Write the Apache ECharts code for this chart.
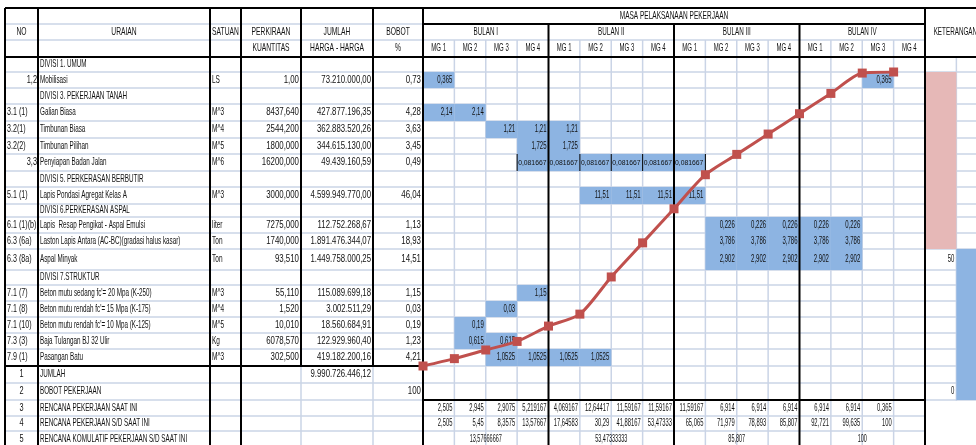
<!DOCTYPE html>
<html><head><meta charset="utf-8">
<script src="https://cdn.jsdelivr.net/npm/echarts@6/dist/echarts.min.js"></script>
<style>html,body{margin:0;padding:0;background:#fff}#c{width:976px;height:445px}</style>
</head><body><div id="c"></div>
<script>
// ---------------- DATA ----------------
const monthNames = ['BULAN I', 'BULAN II', 'BULAN III', 'BULAN IV'];
const weekNames = ['MG 1', 'MG 2', 'MG 3', 'MG 4'];
const headerTop = ['NO', 'URAIAN', 'SATUAN', 'PERKIRAAN', 'JUMLAH', 'BOBOT'];
const headerSub = ['', '', '', 'KUANTITAS', 'HARGA - HARGA', '%'];
const titleSchedule = 'MASA PELAKSANAAN PEKERJAAN';
const titleNote = 'KETERANGAN';

const itemNo = ['', '1,2', '', '3.1 (1)', '3.2(1)', '3.2(2)', '3,3', '', '5.1 (1)', '', '6.1 (1)(b)', '6.3 (6a)', '6.3 (8a)', '', '7.1 (7)', '7.1 (8)', '7.1 (10)', '7.3 (3)', '7.9 (1)'];
const itemName = ['DIVISI 1. UMUM', 'Mobilisasi', 'DIVISI 3. PEKERJAAN TANAH', 'Galian Biasa', 'Timbunan Biasa', 'Timbunan Pilihan', 'Penyiapan Badan Jalan', 'DIVISI 5. PERKERASAN BERBUTIR', 'Lapis Pondasi Agregat Kelas A', 'DIVISI 6.PERKERASAN ASPAL', 'Lapis  Resap Pengikat - Aspal Emulsi', 'Laston Lapis Antara (AC-BC)(gradasi halus kasar)', 'Aspal Minyak', 'DIVISI 7.STRUKTUR', "Beton mutu sedang fc'= 20 Mpa (K-250)", "Beton mutu rendah fc'= 15 Mpa (K-175)", "Beton mutu rendah fc'= 10 Mpa (K-125)", 'Baja Tulangan BJ 32 Ulir', 'Pasangan Batu'];
const itemUnit = ['', 'LS', '', 'M^3', 'M^4', 'M^5', 'M^6', '', 'M^3', '', 'liter', 'Ton', 'Ton', '', 'M^3', 'M^4', 'M^5', 'Kg', 'M^3'];
const itemQty = ['', '1,00', '', '8437,640', '2544,200', '1800,000', '16200,000', '', '3000,000', '', '7275,000', '1740,000', '93,510', '', '55,110', '1,520', '10,010', '6078,570', '302,500'];
const itemPrice = ['', '73.210.000,00', '', '427.877.196,35', '362.883.520,26', '344.615.130,00', '49.439.160,59', '', '4.599.949.770,00', '', '112.752.268,67', '1.891.476.344,07', '1.449.758.000,25', '', '115.089.699,18', '3.002.511,29', '18.560.684,91', '122.929.960,40', '419.182.200,16'];
const itemWeight = ['', '0,73', '', '4,28', '3,63', '3,45', '0,49', '', '46,04', '', '1,13', '18,93', '14,51', '', '1,15', '0,03', '0,19', '1,23', '4,21'];

// schedule bars: item row, first week, last week (0-based), weekly weight
const scheduleRow   = [1, 1, 3, 4, 5, 6, 8, 10, 11, 12, 14, 15, 16, 17, 18];
const scheduleStart = [0, 14, 0, 2, 3, 3, 5, 9, 9, 9, 3, 2, 1, 1, 2];
const scheduleEnd   = [0, 14, 1, 4, 4, 8, 8, 13, 13, 13, 3, 2, 1, 2, 5];
const scheduleValue = [0.365, 0.365, 2.14, 1.21, 1.725, 0.081667, 11.51, 0.226, 3.786, 2.902, 1.15, 0.03, 0.19, 0.615, 1.0525];

const summaryNo = ['1', '2', '3', '4', '5'];
const summaryName = ['JUMLAH', 'BOBOT PEKERJAAN', 'RENCANA PEKERJAAN SAAT INI', 'RENCANA PEKERJAAN S/D SAAT INI', 'RENCANA KOMULATIF PEKERJAAN S/D SAAT INI'];
const totalPrice = '9.990.726.446,12';
const totalWeight = 100;
const weeklyPlan = [2.505, 2.945, 2.9075, 5.219167, 4.069167, 12.64417, 11.59167, 11.59167, 11.59167, 6.914, 6.914, 6.914, 6.914, 6.914, 0.365];
const cumulativePlan = [2.505, 5.45, 8.3575, 13.57667, 17.64583, 30.29, 41.88167, 53.47333, 65.065, 71.979, 78.893, 85.807, 92.721, 99.635, 100];
const monthlyCumulative = [13.57666667, 53.47333333, 85.807, 100];
const curveStart = 0;

// KETERANGAN column: filled ranges (rows) and cell notes
const notePinkRows = [1, 11];
const noteBlueRows = [12, 20];
const noteRow = [12, 20];
const noteValue = [50, 0];

// ---------------- LAYOUT ----------------
const FONT = "'Liberation Sans', Arial, sans-serif";
const CW = 976;
const colX = [5, 38, 210, 241, 301, 373, 423];
const WEEKS_L = 423, WEEKS_R = 925;
const WEEK_W = (WEEKS_R - WEEKS_L) / 16;
const X_MAX = (CW - WEEKS_L) / WEEK_W;
const headY = [8, 24, 40, 57];
const rowH = [15, 16, 16, 17, 17, 16, 17, 16, 17, 13, 16, 16, 21, 15, 16, 16, 16, 16, 17, 17, 17, 16, 15, 16];
const rowTop = []; let accH = 0; rowH.forEach(h => { rowTop.push(accH); accH += h; });
const TOTAL_H = 445 - headY[3];
const TBL_TOP = headY[3];
const ry = i => TBL_TOP + rowTop[i];
const rc = i => TBL_TOP + rowTop[i] + rowH[i] / 2;
const NITEM = itemNo.length;
const wx = w => WEEKS_L + w * WEEK_W;
const fmt = v => String(v).replace('.', ',');

const els = [];
const GRID_C = '#CAD4E6';
function ln(x1, y1, x2, y2, w, c, z) {
  els.push({ type: 'line', silent: true, z: z, shape: { x1, y1, x2, y2 }, style: { stroke: c, lineWidth: w } });
}
function tx(x, y, s, align, size, sx, z) {
  if (s === '' || s == null) return;
  els.push({ type: 'text', silent: true, z: z || 6, x: x, y: y, scaleX: sx,
    style: { text: String(s), x: 0, y: 0, align: align, verticalAlign: 'middle', font: size + 'px ' + FONT, fill: '#111' } });
}

// light grid lines
ln(colX[0], headY[1], WEEKS_L, headY[1], 1.5, GRID_C, 1);
ln(colX[0], headY[2], WEEKS_R, headY[2], 1.5, GRID_C, 1);
for (let i = 1; i < rowH.length; i++) {
  const y = ry(i);
  ln(colX[0], y, WEEKS_R, y, 1.5, GRID_C, 1);
  if (y <= 401) ln(WEEKS_R, y, CW, y, 1.5, GRID_C, 1);
}
for (let w = 1; w < 16; w++) if (w % 4) ln(wx(w), headY[2], wx(w), 446, 1.5, GRID_C, 1);
ln(wx(17), headY[3], wx(17), 401, 1.5, GRID_C, 1);
ln(colX[4], ry(NITEM), colX[4], 446, 1.5, GRID_C, 1);
ln(colX[5], ry(NITEM), colX[5], 446, 1.5, GRID_C, 1);

// black borders
const B = '#000';
ln(colX[0], headY[0], CW, headY[0], 2, B, 4);
ln(WEEKS_L, headY[1], WEEKS_R, headY[1], 2, B, 4);
ln(colX[0], headY[3], CW, headY[3], 2, B, 4);
ln(colX[0], ry(NITEM), WEEKS_L, ry(NITEM), 2, B, 4);
ln(WEEKS_L, ry(NITEM + 2), WEEKS_R, ry(NITEM + 2), 2, B, 4);
[0, 1, 2, 3].forEach(i => ln(colX[i], headY[0], colX[i], 446, 2, B, 4));
[4, 5].forEach(i => ln(colX[i], headY[0], colX[i], ry(NITEM), 2, B, 4));
ln(WEEKS_L, headY[0], WEEKS_L, 446, 2, B, 4);
ln(WEEKS_R, headY[0], WEEKS_R, 446, 2, B, 4);
[4, 8, 12].forEach(w => ln(wx(w), headY[1], wx(w), 446, 2, B, 4));
// cell borders of the 0,081667 row
for (let w = 3; w <= 9; w++) if (w % 4) ln(wx(w), ry(6), wx(w), ry(7), 1, B, 4);

// header texts
const hy1 = (headY[1] + headY[2]) / 2, hy2 = (headY[2] + headY[3]) / 2;
headerTop.forEach((s, i) => tx((colX[i] + colX[i + 1]) / 2, hy1, s, 'center', 10.5, 0.64));
headerSub.forEach((s, i) => tx((colX[i] + colX[i + 1]) / 2, hy2, s, 'center', 10.5, 0.64));
tx((WEEKS_L + WEEKS_R) / 2, (headY[0] + headY[1]) / 2, titleSchedule, 'center', 10.5, 0.62);
monthNames.forEach((s, m) => tx(wx(4 * m + 2), hy1, s, 'center', 10.5, 0.6));
for (let w = 0; w < 16; w++) tx(wx(w) + WEEK_W / 2, hy2, weekNames[w % 4], 'center', 10, 0.6);
tx(wx(17) - 1, (headY[0] + headY[3]) / 2, titleNote, 'center', 10.5, 0.6);

// item rows
for (let i = 0; i < NITEM; i++) {
  const y = rc(i);
  if (/^\d+,\d+$/.test(itemNo[i])) tx(colX[1] - 1, y, itemNo[i], 'right', 10.5, 0.7);
  else tx(colX[0] + 2, y, itemNo[i], 'left', 10.5, 0.68);
  tx(colX[1] + 2, y, itemName[i], 'left', 10.5, 0.6);
  tx(colX[2] + 2, y, itemUnit[i], 'left', 10.5, 0.62);
  tx(colX[4] - 2, y, itemQty[i], 'right', 10.5, 0.75);
  tx(colX[5] - 2, y, itemPrice[i], 'right', 10.5, 0.74);
  tx(colX[6] - 2, y, itemWeight[i], 'right', 10.5, 0.75);
}
// summary rows
summaryNo.forEach((s, k) => {
  const y = rc(NITEM + k);
  tx((colX[0] + colX[1]) / 2, y, s, 'center', 10.5, 0.7);
  tx(colX[1] + 2, y, summaryName[k], 'left', 10.5, 0.6);
});
tx(colX[5] - 2, rc(NITEM), totalPrice, 'right', 10.5, 0.74);
tx(colX[6] - 2, rc(NITEM + 1), fmt(totalWeight), 'right', 10.5, 0.75);
weeklyPlan.forEach((v, w) => tx(wx(w + 1) - 2, rc(NITEM + 2), fmt(v), 'right', 10, 0.58));
cumulativePlan.forEach((v, w) => tx(wx(w + 1) - 2, rc(NITEM + 3), fmt(v), 'right', 10, 0.58));
monthlyCumulative.forEach((v, m) => tx(wx(4 * m + 2), rc(NITEM + 4), fmt(v), 'center', 10, 0.55));
noteRow.forEach((r, k) => tx(wx(17) - 2, rc(r), fmt(noteValue[k]), 'right', 10, 0.6));

// ---------------- SERIES DATA ----------------
const cellData = [];
scheduleRow.forEach((r, k) => {
  for (let w = scheduleStart[k]; w <= scheduleEnd[k]; w++) {
    cellData.push([w, rowTop[r], rowTop[r] + rowH[r], scheduleValue[k], 0]);
  }
});
for (let r = notePinkRows[0]; r <= notePinkRows[1]; r++) cellData.push([16, rowTop[r], rowTop[r] + rowH[r], null, 1]);
for (let r = noteBlueRows[0]; r <= noteBlueRows[1]; r++) cellData.push([17, rowTop[r], rowTop[r] + rowH[r], null, 0]);

const curveData = [[0, curveStart]].concat(cumulativePlan.map((v, i) => [i + 1, v]));

const chart = echarts.init(document.getElementById('c'), null, { renderer: 'canvas' });
chart.setOption({
  animation: false,
  backgroundColor: '#fff',
  graphic: { elements: els },
  grid: [
    { left: WEEKS_L, top: TBL_TOP, right: 0, bottom: 0 },
    { left: WEEKS_L, top: 72, width: WEEKS_R - WEEKS_L, height: ry(NITEM) - 72 }
  ],
  xAxis: [
    { gridIndex: 0, type: 'value', min: 0, max: X_MAX, show: false },
    { gridIndex: 1, type: 'value', min: 0, max: 16, show: false }
  ],
  yAxis: [
    { gridIndex: 0, type: 'value', min: 0, max: TOTAL_H, inverse: true, show: false },
    { gridIndex: 1, type: 'value', min: 0, max: 100, show: false }
  ],
  series: [
    {
      type: 'custom', xAxisIndex: 0, yAxisIndex: 0, z: 2, silent: true, clip: false,
      data: cellData,
      renderItem: function (params, api) {
        const w = api.value(0);
        const p0 = api.coord([w, api.value(1)]);
        const p1 = api.coord([w + 1, api.value(2)]);
        const v = api.value(3);
        const pink = api.value(4) === 1;
        const children = [{ type: 'rect', shape: { x: p0[0], y: p0[1], width: p1[0] - p0[0], height: p1[1] - p0[1] },
          style: { fill: pink ? '#E6B8B7' : '#8DB4E2' } }];
        if (v != null && !isNaN(v)) {
          const small = String(v).length > 6;
          children.push({ type: 'text', x: p1[0] - 2, y: (p0[1] + p1[1]) / 2, scaleX: small ? 0.85 : 0.6,
            style: { text: fmt(v), x: 0, y: 0, align: 'right', verticalAlign: 'middle', font: (small ? 8 : 10) + 'px ' + FONT, fill: '#111' } });
        }
        return { type: 'group', children: children };
      }
    },
    {
      type: 'line', xAxisIndex: 1, yAxisIndex: 1, z: 10, silent: true,
      data: curveData, smooth: 0.25,
      symbol: 'rect', symbolSize: 9, showSymbol: true,
      lineStyle: { color: '#C0504D', width: 3 },
      itemStyle: { color: '#C0504D' }
    }
  ]
});
</script></body></html>
